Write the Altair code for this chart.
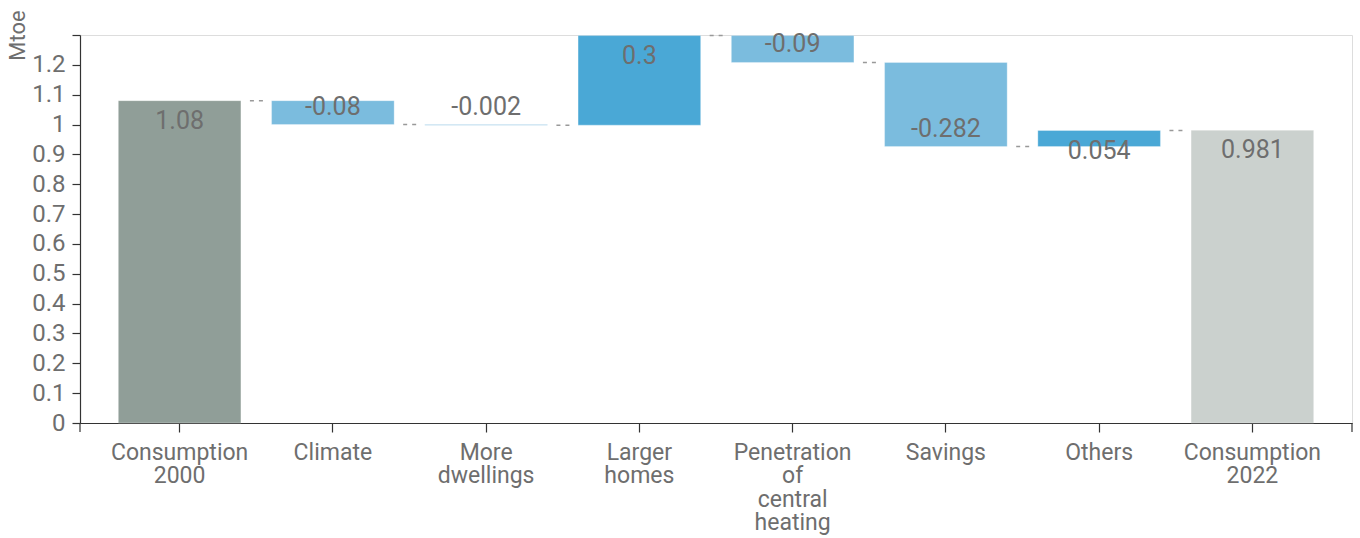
import altair as alt
import pandas as pd

categories = ["Consumption 2000", "Climate", "More dwellings", "Larger homes",
              "Penetration of central heating", "Savings", "Others", "Consumption 2022"]
values = [1.08, -0.08, -0.002, 0.3, -0.09, -0.282, 0.054, 0.981]
labels = ["1.08", "-0.08", "-0.002", "0.3", "-0.09", "-0.282", "0.054", "0.981"]
kinds = ["total_start", "delta", "delta", "delta", "delta", "delta", "delta", "total_end"]
label_lines = {
    "Consumption 2000": ["Consumption", "2000"],
    "Climate": ["Climate"],
    "More dwellings": ["More", "dwellings"],
    "Larger homes": ["Larger", "homes"],
    "Penetration of central heating": ["Penetration", "of", "central", "heating"],
    "Savings": ["Savings"],
    "Others": ["Others"],
    "Consumption 2022": ["Consumption", "2022"],
}
y_ticks = [0, 0.1, 0.2, 0.3, 0.4, 0.5, 0.6, 0.7, 0.8, 0.9, 1, 1.1, 1.2, 1.3]

rows = []
running = 0.0
for cat, v, lab, k in zip(categories, values, labels, kinds):
    if k == "delta":
        start, end = running, running + v
        kind = "pos" if v >= 0 else "neg"
    else:
        start, end = 0.0, v
        kind = k
    running = end
    rows.append(dict(cat=cat, start=start, end=end, label=lab, kind=kind))
df = pd.DataFrame(rows)
conn = df.iloc[:-1].copy()

W, H = 1272, 388
FONT = "Roboto"
TXT = "#6e6e6e"

label_expr = "{" + ",".join(
    "'" + k + "':[" + ",".join("'" + s + "'" for s in v) + "]" for k, v in label_lines.items()
) + "}[datum.value]"

xscale = alt.Scale(domain=categories, paddingInner=0.2, paddingOuter=0.25)
yscale = alt.Scale(domain=[0, 1.3], nice=False)

x_axis = alt.Axis(labelAngle=0, labelExpr=label_expr, labelFont=FONT,
                  labelFontSize=23, labelColor=TXT, labelLineHeight=23.5,
                  labelPadding=9, tickSize=9, tickColor="#333", domainColor="#333",
                  domainWidth=1.2, tickWidth=1.2, labelBaseline="top")
y_axis = alt.Axis(values=y_ticks, format="~g",
                  labelExpr="datum.value >= 1.25 ? '' : datum.label",
                  labelOverlap=False, grid=False, labelFont=FONT, labelFontSize=24,
                  labelColor=TXT, tickSize=8, labelPadding=7, tickColor="#333",
                  domainColor="#333", domainWidth=1.2, tickWidth=1.2,
                  titleFont=FONT, titleFontSize=22, titleColor=TXT,
                  titleFontWeight="normal", titleAngle=-90, titleX=-56, titleY=0,
                  titleAlign="center", titleBaseline="alphabetic")


def X(**kw):
    return alt.X("cat:N", scale=xscale, sort=categories, title=None, axis=x_axis, **kw)


def Y(field):
    return alt.Y(field, scale=yscale, title="Mtoe", axis=y_axis)


color = alt.Color("kind:N", legend=None,
                  scale=alt.Scale(domain=["total_start", "pos", "neg", "total_end"],
                                  range=["#909e98", "#4aa8d6", "#7bbcde", "#cbd1ce"]))

bars = alt.Chart(df).mark_bar(stroke="white", strokeWidth=0.5, strokeOpacity=0.6).encode(
    x=X(), y=Y("start:Q"), y2="end:Q", color=color
)

connectors = alt.Chart(conn).mark_rule(color="#999999", strokeDash=[4, 5], strokeWidth=1.5,
                                       xOffset=9, x2Offset=22).encode(
    x=X(bandPosition=1),
    x2=alt.X2("cat:N", bandPosition=1),
    y=Y("end:Q"),
)

text_up = alt.Chart(df).transform_filter("datum.kind != 'neg'").mark_text(
    font=FONT, fontSize=25, color=TXT, dy=20, baseline="middle").encode(
    x=X(), y=Y("end:Q"), text="label:N")

text_down = alt.Chart(df).transform_filter("datum.kind == 'neg'").mark_text(
    font=FONT, fontSize=25, color=TXT, dy=-18, baseline="middle").encode(
    x=X(), y=Y("end:Q"), text="label:N")

end_tick_l = alt.Chart(df.iloc[:1]).mark_rule(color="#333", strokeWidth=1.2).encode(
    x=alt.value(0), y=alt.value(H), y2=alt.value(H + 9))
end_tick_r = alt.Chart(df.iloc[:1]).mark_rule(color="#333", strokeWidth=1.2).encode(
    x=alt.value(W), y=alt.value(H), y2=alt.value(H + 9))

chart = alt.layer(bars, connectors, text_up, text_down, end_tick_l, end_tick_r).properties(
    width=W, height=H,
    autosize=alt.AutoSizeParams(type="none"),
    padding={"left": 80, "top": 35, "right": 8, "bottom": 115},
).configure_view(stroke=None).configure(background="white")

chart.save("out.html", embed_options={"renderer": "svg", "actions": False})
